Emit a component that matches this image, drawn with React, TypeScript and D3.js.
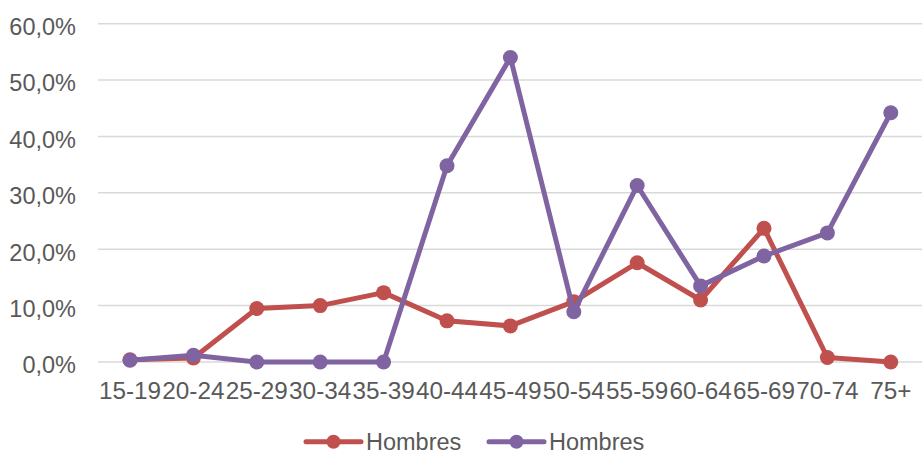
import React from "react";
import * as d3 from "d3";

const categories = ["15-19","20-24","25-29","30-34","35-39","40-44","45-49","50-54","55-59","60-64","65-69","70-74","75+"];
const seriesNames = ["Hombres", "Hombres"];
const redValues = [0.4, 0.7, 9.5, 10.0, 12.3, 7.3, 6.4, 10.7, 17.6, 11.0, 23.7, 0.8, 0.0];
const purpleValues = [0.3, 1.2, 0.0, 0.0, 0.0, 34.8, 54.0, 8.9, 31.3, 13.5, 18.8, 22.9, 44.2];
const yTicks = [0, 10, 20, 30, 40, 50, 60];
const colors = ["#C0504D", "#8064A2"];

const W = 924, H = 462;
const FONT = "'Liberation Sans', Arial, sans-serif";

export default function App() {
  const x = d3.scaleBand<string>().domain(categories).range([98.3, 922.5]);
  const y = d3.scaleLinear().domain([0, 60]).range([362, 23.7]);
  const line = d3.line<number>().x((_, i) => (x(categories[i]) as number) + x.bandwidth() / 2).y(d => y(d));
  const series = [redValues, purpleValues];
  const fmt = (v: number) => v.toFixed(1).replace(".", ",") + "%";
  const legend = [{ x0: 306, tx: 366 }, { x0: 489, tx: 549 }];

  return (
    <div style={{ position: "absolute", left: 0, top: 0 }}>
      <svg width={W} height={H} style={{ display: "block", background: "#fff" }}>
        {yTicks.map(t => (
          <g key={t}>
            <line x1={98} x2={922} y1={y(t)} y2={y(t)} stroke="#D9D9D9" strokeWidth={1.5} />
            <text x={76} y={y(t) + 11.3} textAnchor="end" fontFamily={FONT} fontSize={23.5} fill="#595959">{fmt(t)}</text>
          </g>
        ))}
        {categories.map(c => (
          <text key={c} x={(x(c) as number) + x.bandwidth() / 2} y={399} textAnchor="middle" fontFamily={FONT} fontSize={24.3} fill="#595959">{c}</text>
        ))}
        {series.map((vals, si) => (
          <g key={si}>
            <path d={line(vals) || ""} fill="none" stroke={colors[si]} strokeWidth={5} strokeLinejoin="round" strokeLinecap="round" />
            {vals.map((v, i) => (
              <circle key={i} cx={(x(categories[i]) as number) + x.bandwidth() / 2} cy={y(v)} r={7.5} fill={colors[si]} />
            ))}
          </g>
        ))}
        {legend.map((l, i) => (
          <g key={i}>
            <line x1={l.x0} x2={l.x0 + 55} y1={441.7} y2={441.7} stroke={colors[i]} strokeWidth={5} strokeLinecap="round" />
            <circle cx={l.x0 + 27.5} cy={441.7} r={7} fill={colors[i]} />
            <text x={l.tx} y={450} fontFamily={FONT} fontSize={23.5} fill="#595959">{seriesNames[i]}</text>
          </g>
        ))}
      </svg>
    </div>
  );
}
